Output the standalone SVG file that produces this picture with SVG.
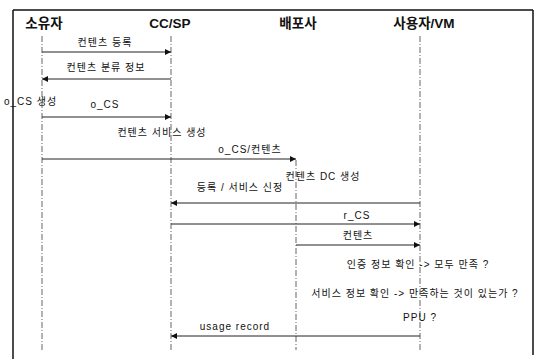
<svg xmlns="http://www.w3.org/2000/svg" width="540" height="359" viewBox="0 0 540 359">
<defs>
<style>
text{font-family:"Liberation Sans","Noto Sans CJK KR",sans-serif;fill:#111}
.h{font-size:13.5px;font-weight:bold}
.l{font-size:10px;letter-spacing:1px}
.life{stroke:#555;stroke-width:0.9;stroke-dasharray:6 2 1 2;fill:none}
.msg{stroke:#222;stroke-width:1;fill:none}
.fr{stroke:#111;stroke-width:1.5;fill:none}
</style>
<marker id="ah" viewBox="0 0 10 10" refX="10" refY="5" markerWidth="8" markerHeight="6" orient="auto" markerUnits="userSpaceOnUse">
<path d="M0,0 L10,5 L0,10 z" fill="#111"/>
</marker>
</defs>
<g id="frame">
<line class="fr" x1="13" y1="10" x2="13" y2="359"/>
<line class="fr" x1="13" y1="10" x2="533" y2="10"/>
<line class="fr" x1="533" y1="10" x2="533" y2="355"/>
</g>
<g id="owner"><text class="h" x="44" y="28" text-anchor="middle">소유자</text><line class="life" x1="42" y1="36" x2="42" y2="350"/></g>
<g id="ccsp"><text class="h" x="170" y="28" text-anchor="middle">CC/SP</text><line class="life" x1="171" y1="36" x2="171" y2="350"/></g>
<g id="distributor"><text class="h" x="298" y="28" text-anchor="middle">배포사</text><line class="life" x1="296" y1="160" x2="296" y2="350"/></g>
<g id="user"><text class="h" x="424" y="28" text-anchor="middle">사용자/VM</text><line class="life" x1="420" y1="36" x2="420" y2="350"/></g>
<g id="connectors">
<line class="msg" x1="42" y1="52" x2="171" y2="52" marker-end="url(#ah)"/>
<line class="msg" x1="171" y1="79" x2="42" y2="79" marker-end="url(#ah)"/>
<line class="msg" x1="42" y1="117" x2="171" y2="117" marker-end="url(#ah)"/>
<line class="msg" x1="42" y1="159" x2="296" y2="159" marker-end="url(#ah)"/>
<line class="msg" x1="420" y1="203" x2="171" y2="203" marker-end="url(#ah)"/>
<line class="msg" x1="171" y1="224" x2="420" y2="224" marker-end="url(#ah)"/>
<line class="msg" x1="296" y1="245" x2="420" y2="245" marker-end="url(#ah)"/>
<line class="msg" x1="420" y1="336" x2="171" y2="336" marker-end="url(#ah)"/>
</g>
<g id="labels">
<text class="l" x="105" y="46" text-anchor="middle">컨텐츠 등록</text>
<text class="l" x="106" y="71" text-anchor="middle">컨텐츠 분류 정보</text>
<text class="l" x="4" y="105">o_CS 생성</text>
<text class="l" x="105" y="108" text-anchor="middle">o_CS</text>
<text class="l" x="162" y="136" text-anchor="middle">컨텐츠 서비스 생성</text>
<text class="l" x="250" y="153" text-anchor="middle">o_CS/컨텐츠</text>
<text class="l" x="323" y="180" text-anchor="middle">컨텐츠 DC 생성</text>
<text class="l" x="240" y="191" text-anchor="middle">등록 / 서비스 신정</text>
<text class="l" x="357" y="219" text-anchor="middle">r_CS</text>
<text class="l" x="358" y="239" text-anchor="middle">컨텐츠</text>
<text class="l" x="418" y="268" text-anchor="middle">인증 정보 확인 -&gt; 모두 만족 ?</text>
<text class="l" x="415" y="297" text-anchor="middle">서비스 정보 확인 -&gt; 만족하는 것이 있는가 ?</text>
<text class="l" x="420" y="321" text-anchor="middle">PPU ?</text>
<text class="l" x="235" y="330" text-anchor="middle">usage record</text>
</g>
</svg>
